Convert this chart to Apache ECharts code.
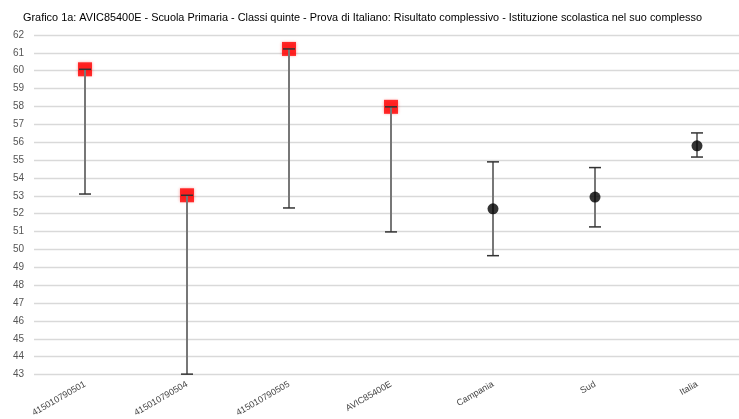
<!DOCTYPE html>
<html>
<head>
<meta charset="utf-8">
<script src="https://cdn.jsdelivr.net/npm/echarts@6/dist/echarts.min.js"></script>
<style>
html,body{margin:0;padding:0;background:#fff;overflow:hidden;width:739px;height:419px;}
#chart{width:749px;height:419px;}
</style>
</head>
<body>
<div id="chart"></div>
<script>
const titleText = 'Grafico 1a: AVIC85400E - Scuola Primaria - Classi quinte - Prova di Italiano: Risultato complessivo - Istituzione scolastica nel suo complesso';
const categories = ['415010790501', '415010790504', '415010790505', 'AVIC85400E', 'Campania', 'Sud', 'Italia'];
const schoolValues = [60.08, 53.03, 61.22, 57.98, null, null, null];
const referenceValues = [null, null, null, null, 52.27, 52.93, 55.8];
const lowerBounds = [53.1, 43.02, 52.32, 50.98, 49.65, 51.26, 55.17];
const upperBounds = [60.08, 53.03, 61.22, 57.98, 54.9, 54.58, 56.52];
const yMin = 43, yMax = 62, yStep = 1;

const errorData = categories.map((c, i) => [i, lowerBounds[i], upperBounds[i]]);

const chart = echarts.init(document.getElementById('chart'), null, {renderer: 'canvas'});
chart.setOption({
  animation: false,
  backgroundColor: '#ffffff',
  title: {
    text: titleText,
    left: 18, top: 7,
    textStyle: {fontFamily: 'Liberation Sans, Arial, sans-serif', fontSize: 10.9, fontWeight: 'normal', color: '#000'}
  },
  grid: {left: 34, top: 35, right: 1, height: 339.5, containLabel: false},
  xAxis: {
    type: 'category',
    data: categories,
    boundaryGap: true,
    axisLine: {show: false},
    axisTick: {show: false},
    splitLine: {show: false},
    axisLabel: {rotate: 30, fontSize: 9, color: '#444', fontFamily: 'Liberation Sans, Arial, sans-serif', margin: 9, interval: 0}
  },
  yAxis: {
    type: 'value',
    min: yMin, max: yMax, interval: yStep,
    axisLine: {show: false},
    axisTick: {show: false},
    axisLabel: {fontSize: 10, color: '#555', fontFamily: 'Liberation Sans, Arial, sans-serif', margin: 10},
    splitLine: {lineStyle: {color: '#d9d9d9', width: 1.3}}
  },
  series: [
    {
      type: 'scatter',
      data: schoolValues,
      symbol: 'rect',
      symbolSize: 14,
      itemStyle: {color: '#ff0000', shadowColor: 'rgba(255,0,0,0.5)', shadowBlur: 3},
      z: 2
    },
    {
      type: 'scatter',
      data: referenceValues,
      symbol: 'circle',
      symbolSize: 11,
      itemStyle: {color: '#000000'},
      z: 4
    },
    {
      type: 'custom',
      data: errorData,
      z: 3,
      renderItem: function (params, api) {
        const x = api.value(0);
        const lo = api.coord([x, api.value(1)]);
        const hi = api.coord([x, api.value(2)]);
        const half = 6;
        return {
          type: 'group',
          children: [
            {type: 'line', shape: {x1: lo[0], y1: lo[1], x2: hi[0], y2: hi[1]}, style: {stroke: '#777', lineWidth: 2}},
            {type: 'line', shape: {x1: lo[0] - half, y1: lo[1], x2: lo[0] + half, y2: lo[1]}, style: {stroke: '#333', lineWidth: 1.5}},
            {type: 'line', shape: {x1: hi[0] - half, y1: hi[1], x2: hi[0] + half, y2: hi[1]}, style: {stroke: '#333', lineWidth: 1.5}}
          ]
        };
      }
    }
  ]
});
</script>
</body>
</html>
